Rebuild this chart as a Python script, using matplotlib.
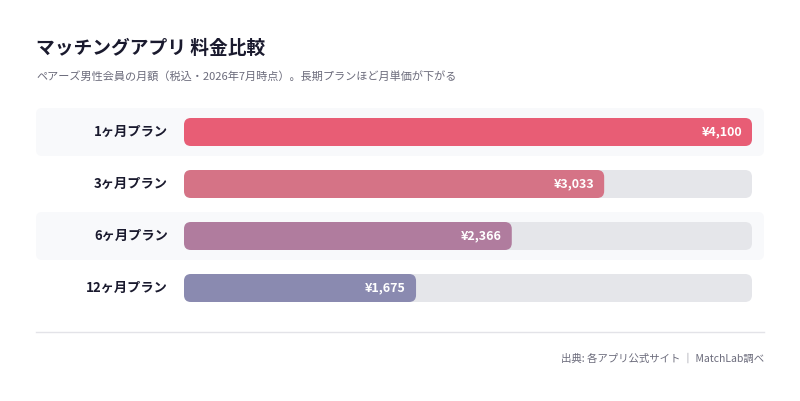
import matplotlib
matplotlib.use("Agg")
import matplotlib.pyplot as plt
from matplotlib.patches import FancyBboxPatch, Rectangle

plt.rcParams['font.family'] = ['Noto Sans CJK JP', 'DejaVu Sans']

plans = ["1ヶ月プラン", "3ヶ月プラン", "6ヶ月プラン", "12ヶ月プラン"]
prices = [4100, 3033, 2366, 1675]
colors = ["#e85d75", "#d57386", "#b07c9e", "#8a8ab0"]
title = "マッチングアプリ 料金比較"
subtitle = "ペアーズ男性会員の月額（税込・2026年7月時点）。長期プランほど月単価が下がる"
source = "出典: 各アプリ公式サイト ｜ MatchLab調べ"

W, H = 800, 401
fig = plt.figure(figsize=(W/100, H/100), dpi=100)
bg = fig.add_axes([0, 0, 1, 1])
bg.set_xlim(0, W); bg.set_ylim(H, 0); bg.axis('off')

bg.text(36, 48, title, fontsize=13.5, fontweight='bold', color='#1a1a2e', va='center')
bg.text(36, 76, subtitle, fontsize=8, color='#6b6b7b', va='center')

row_y = [132, 184, 236, 288]
for i, (p, y) in enumerate(zip(plans, row_y)):
    if i % 2 == 0:
        bg.add_patch(FancyBboxPatch((36, y-24), 728, 48, boxstyle="round,pad=0,rounding_size=6",
                                    fc='#f8f9fb', ec='none'))
    bg.text(168, y, p, fontsize=9.5, fontweight='bold', color='#1a1a2e', ha='right', va='center')

bg.plot([36, 764], [332, 332], color='#e3e3e8', lw=1)
bg.text(764, 359, source, fontsize=7.5, color='#6b6b7b', ha='right', va='center')

x0, x1, ytop, ybot = 184, 752, 100, 320
ax = fig.add_axes([x0/W, 1-ybot/H, (x1-x0)/W, (ybot-ytop)/H])
vmax = max(prices)
ax.set_xlim(0, vmax); ax.set_ylim(ybot, ytop); ax.axis('off')
upx = vmax/(x1-x0)
asp = 1/upx
r = 7*upx
for v, c, y in zip(prices, colors, row_y):
    ax.add_patch(FancyBboxPatch((0, y-14), vmax, 28, boxstyle=f"round,pad=0,rounding_size={r}",
                                mutation_aspect=asp, fc='#e5e6ea', ec='none'))
    ax.add_patch(FancyBboxPatch((0, y-14), v, 28, boxstyle=f"round,pad=0,rounding_size={r}",
                                mutation_aspect=asp, fc=c, ec='none'))
    ax.text(v - 10*upx, y, f"¥{v:,}", fontsize=9, fontweight='bold', color='white',
            ha='right', va='center')

fig.savefig("out.png", dpi=100)
